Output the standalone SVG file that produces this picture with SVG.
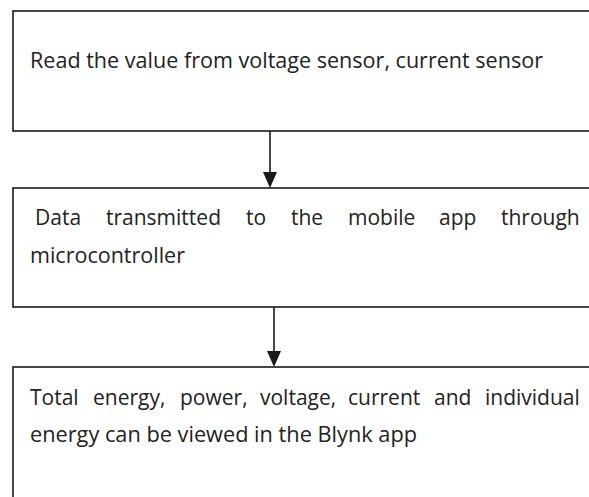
<svg xmlns="http://www.w3.org/2000/svg" width="589" height="497" viewBox="0 0 589 497">
<style>
.box{fill:#fff;stroke:#1a1a1a;stroke-width:1.6}
.t{font-family:"Open Sans","Liberation Sans",sans-serif;font-size:21px;fill:#222}
.c{stroke:#1a1a1a;stroke-width:1.6;fill:none}
.h{fill:#1a1a1a}
</style>
<rect width="589" height="497" fill="#fff"/>
<g id="connectors">
<line class="c" x1="270" y1="131" x2="270" y2="172"/>
<path class="h" d="M263,172 L277,172 L270,188 Z"/>
<line class="c" x1="274" y1="307" x2="274" y2="351"/>
<path class="h" d="M267,351 L281,351 L274,367 Z"/>
</g>
<g id="node1">
<rect class="box" x="13" y="11" width="600" height="120"/>
<text class="t" x="30" y="68" textLength="513" lengthAdjust="spacingAndGlyphs">Read the value from voltage sensor, current sensor</text>
</g>
<g id="node2">
<rect class="box" x="13" y="188" width="600" height="119"/>
<text class="t" y="225"><tspan x="35">Data</tspan><tspan x="106">transmitted</tspan><tspan x="246">to</tspan><tspan x="291">the</tspan><tspan x="348">mobile</tspan><tspan x="439">app</tspan><tspan x="501">through</tspan></text>
<text class="t" x="30" y="263" textLength="155" lengthAdjust="spacingAndGlyphs">microcontroller</text>
</g>
<g id="node3">
<rect class="box" x="13" y="367" width="600" height="160"/>
<text class="t" y="405"><tspan x="30">Total</tspan><tspan x="93">energy,</tspan><tspan x="180">power,</tspan><tspan x="260">voltage,</tspan><tspan x="348">current</tspan><tspan x="434">and</tspan><tspan x="485">individual</tspan></text>
<text class="t" x="30" y="442" textLength="387" lengthAdjust="spacingAndGlyphs">energy can be viewed in the Blynk app</text>
</g>
</svg>
